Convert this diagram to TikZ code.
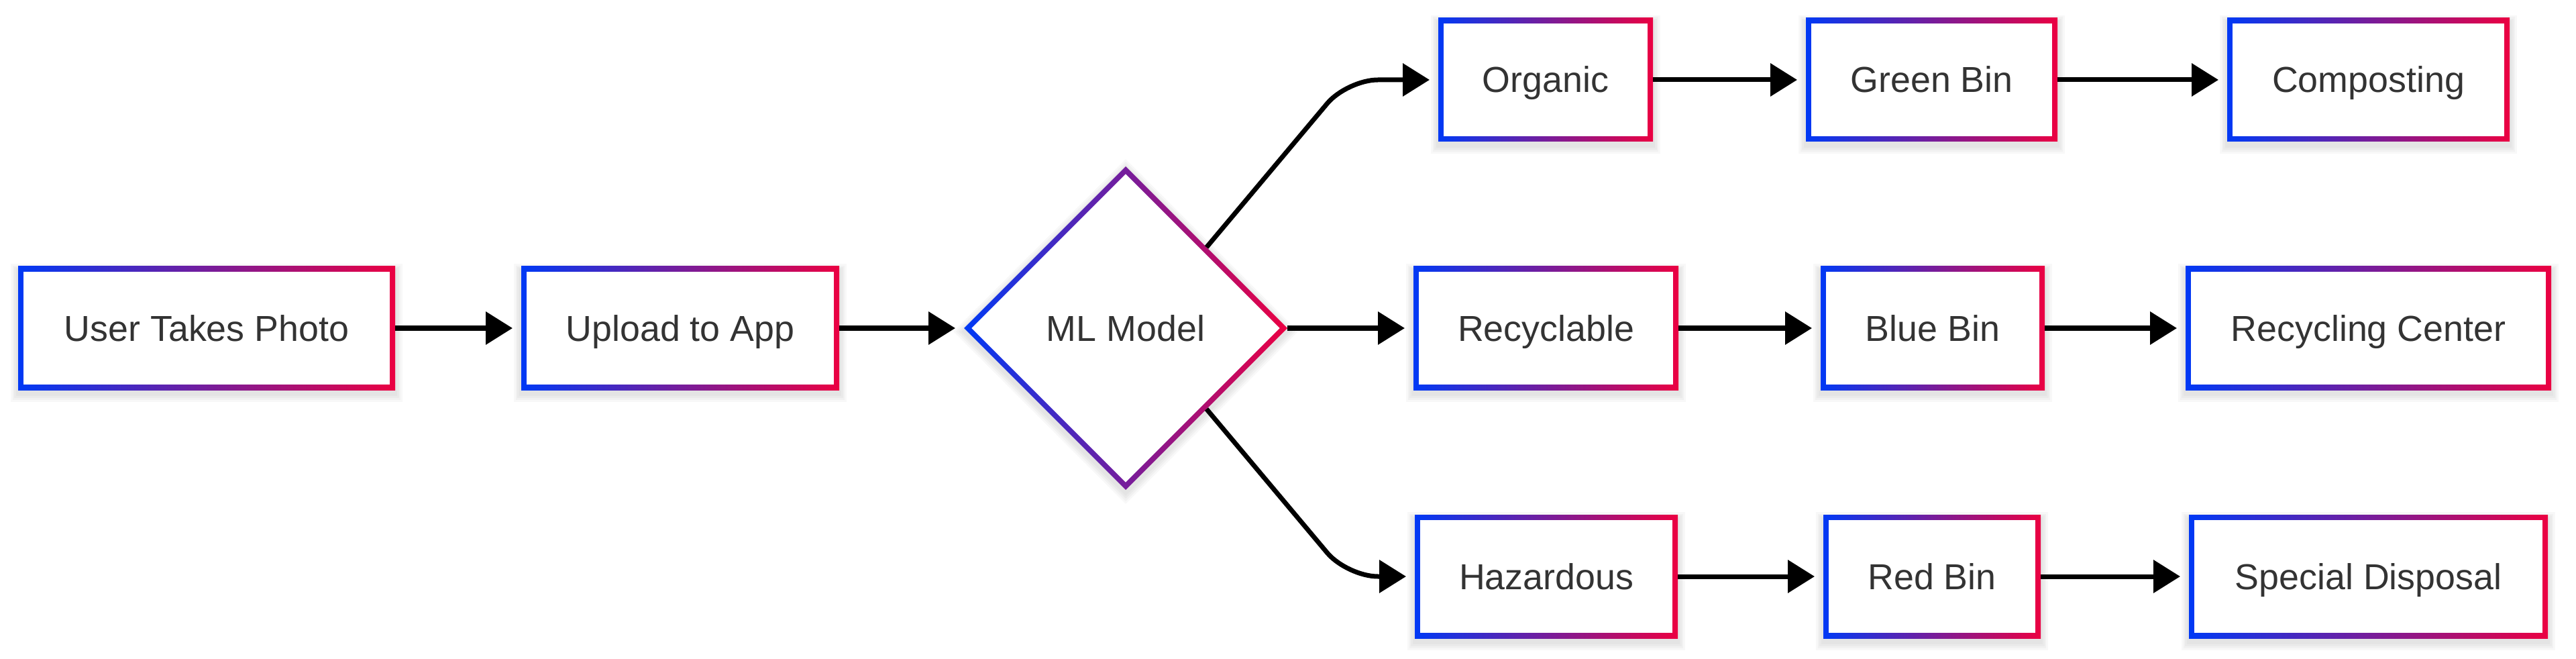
\documentclass[tikz,border=0pt]{standalone}
\usepackage{fontspec}
\setmainfont{Liberation Sans}
\usetikzlibrary{arrows.meta,shapes.geometric,calc,backgrounds}
\definecolor{gblue}{HTML}{0039F5}
\definecolor{gred}{HTML}{EB0042}
\definecolor{txt}{HTML}{333333}
\tikzset{
  base/.style={inner sep=0pt, outer sep=0pt, text=txt, text height=0.5cm, text depth=0.12cm,
    font=\fontsize{15.3pt}{18pt}\selectfont, left color=gblue, right color=gred},
  gbox/.style={base, rectangle, minimum height=1.84cm,
    path picture={\fill[white] ([shift={(0.08,0.08)}]path picture bounding box.south west)
      rectangle ([shift={(-0.08,-0.08)}]path picture bounding box.north east);}},
  gdia/.style={base, diamond, minimum width=4.82cm, minimum height=4.82cm,
    path picture={\fill[white] ([xshift=0.113cm]path picture bounding box.west)
      -- ([yshift=-0.113cm]path picture bounding box.north)
      -- ([xshift=-0.113cm]path picture bounding box.east)
      -- ([yshift=0.113cm]path picture bounding box.south) -- cycle;}},
  flow/.style={line width=0.07cm, -{Triangle[length=0.4cm,width=0.48cm]}, shorten >=0.13cm},
  shadowfill/.style={fill=black, opacity=0.028},
}
\begin{document}
\begin{tikzpicture}
\useasboundingbox (0,0) rectangle (38.40,9.81);
% nodes
\node[gbox, minimum width=5.62cm] (photo)   at (3.08,4.92)   {User Takes Photo};
\node[gbox, minimum width=4.74cm] (upload)  at (10.14,4.92)  {Upload to App};
\node[gdia]                        (dia)     at (16.78,4.92)  {ML Model};
\node[gbox, minimum width=3.20cm] (organic) at (23.04,8.62)  {Organic};
\node[gbox, minimum width=3.95cm] (recyc)   at (23.045,4.92) {Recyclable};
\node[gbox, minimum width=3.92cm] (hazard)  at (23.05,1.22)  {Hazardous};
\node[gbox, minimum width=3.75cm] (green)   at (28.795,8.62) {Green Bin};
\node[gbox, minimum width=3.34cm] (blue)    at (28.81,4.92)  {Blue Bin};
\node[gbox, minimum width=3.24cm] (red)     at (28.80,1.22)  {Red Bin};
\node[gbox, minimum width=4.21cm] (compost) at (35.305,8.62) {Composting};
\node[gbox, minimum width=5.45cm] (recenter) at (35.305,4.92) {Recycling Center};
\node[gbox, minimum width=5.35cm] (special) at (35.305,1.22) {Special Disposal};
% soft shadows
\begin{scope}[on background layer]
\foreach \n in {photo,upload,organic,recyc,hazard,green,blue,red,compost,recenter,special}{
  \foreach \k in {1,...,4}{
    \fill[shadowfill] ([shift={(-\k*0.028,-0.06-\k*0.03)}]\n.south west)
      rectangle ([shift={(\k*0.028,-0.06+\k*0.025)}]\n.north east);
  }
}
\foreach \k in {1,...,4}{
  \fill[shadowfill] ([shift={(-\k*0.04,-0.05)}]dia.west) -- ([shift={(0,-0.05+\k*0.04)}]dia.north)
    -- ([shift={(\k*0.04,-0.05)}]dia.east) -- ([shift={(0,-0.05-\k*0.04)}]dia.south) -- cycle;
}
\end{scope}
% bend points
\coordinate (c1) at (20.08,8.62);
\coordinate (c2) at (20.08,1.22);
% connectors
\draw[flow] (photo.east) -- (upload.west);
\draw[flow] (upload.east) -- (dia.west);
\draw[flow] (dia.east) -- (recyc.west);
\draw[flow, rounded corners=0.46cm] ($(dia.north)!0.5!(dia.east)$) -- (c1) -- (organic.west);
\draw[flow, rounded corners=0.46cm] ($(dia.south)!0.5!(dia.east)$) -- (c2) -- (hazard.west);
\draw[flow] (organic.east) -- (green.west);
\draw[flow] (green.east) -- (compost.west);
\draw[flow] (recyc.east) -- (blue.west);
\draw[flow] (blue.east) -- (recenter.west);
\draw[flow] (hazard.east) -- (red.west);
\draw[flow] (red.east) -- (special.west);
\end{tikzpicture}
\end{document}
